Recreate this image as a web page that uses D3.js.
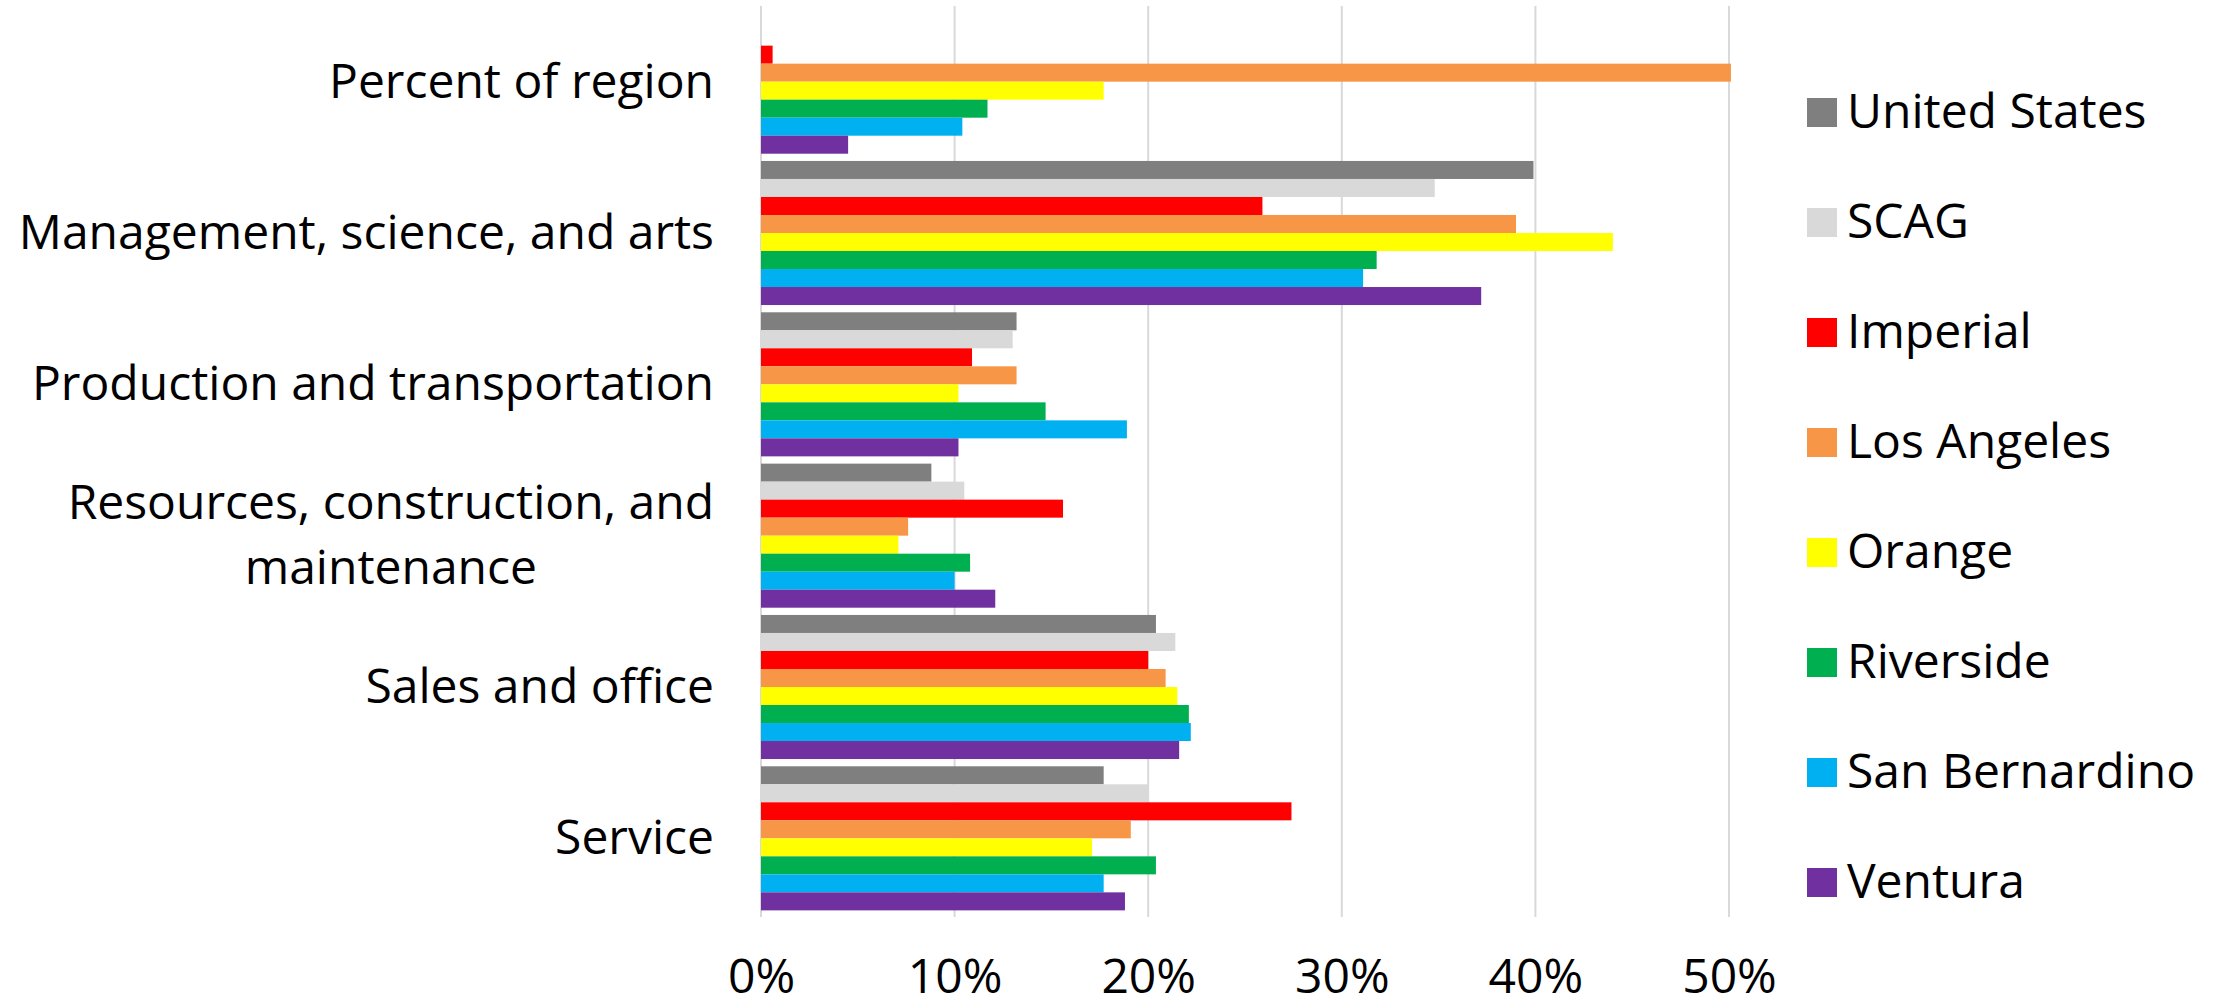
<!DOCTYPE html>
<html>
<head>
<meta charset="utf-8">
<script src="https://cdn.jsdelivr.net/npm/d3@7/dist/d3.min.js"></script>
<style>
  html, body { margin: 0; padding: 0; background: #ffffff; }
  svg { display: block; }
  text { font-family: "Open Sans", "Noto Sans", sans-serif; fill: #000; }
</style>
</head>
<body>
<svg id="chart" width="2229" height="1007"></svg>
<script>
// Occupation categories (top to bottom) and their wrapped label lines
const categories = [
  "Percent of region",
  "Management, science, and arts",
  "Production and transportation",
  "Resources, construction, and maintenance",
  "Sales and office",
  "Service"
];
const categoryLines = [
  ["Percent of region"],
  ["Management, science, and arts"],
  ["Production and transportation"],
  ["Resources, construction, and", "maintenance"],
  ["Sales and office"],
  ["Service"]
];

// Geographies, in bar order within each category
const seriesNames = ["United States", "SCAG", "Imperial", "Los Angeles", "Orange", "Riverside", "San Bernardino", "Ventura"];
const seriesColors = ["#7f7f7f", "#d9d9d9", "#ff0000", "#f79646", "#ffff00", "#00b050", "#00b0f0", "#7030a0"];

// Share of employed residents (%) by category; null = not reported
const unitedStates  = [null, 39.9, 13.2,  8.8, 20.4, 17.7];
const scag          = [null, 34.8, 13.0, 10.5, 21.4, 20.0];
const imperial      = [ 0.6, 25.9, 10.9, 15.6, 20.0, 27.4];
const losAngeles    = [50.1, 39.0, 13.2,  7.6, 20.9, 19.1];
const orange        = [17.7, 44.0, 10.2,  7.1, 21.5, 17.1];
const riverside     = [11.7, 31.8, 14.7, 10.8, 22.1, 20.4];
const sanBernardino = [10.4, 31.1, 18.9, 10.0, 22.2, 17.7];
const ventura       = [ 4.5, 37.2, 10.2, 12.1, 21.6, 18.8];
const seriesValues = [unitedStates, scag, imperial, losAngeles, orange, riverside, sanBernardino, ventura];

// Axis ticks
const xTicks = [0, 10, 20, 30, 40, 50];

const svg = d3.select("#chart");
const FONT = 48;

const plot = { left: 761, right: 1729, top: 6, bottom: 914 };

const x = d3.scaleLinear().domain([0, 50]).range([plot.left, plot.right]);
const y0 = d3.scaleBand().domain(categories).range([plot.top, plot.bottom])
  .paddingInner(0.048).paddingOuter(0.024);
const y1 = d3.scaleBand().domain(seriesNames).range([0, y0.bandwidth()]);

// Vertical gridlines
svg.append("g").selectAll("line").data(xTicks).join("line")
  .attr("x1", d => x(d)).attr("x2", d => x(d))
  .attr("y1", plot.top).attr("y2", plot.bottom + 3)
  .attr("stroke", "#d9d9d9").attr("stroke-width", 2);

// Bars
const rows = [];
categories.forEach((c, ci) => {
  seriesNames.forEach((s, si) => {
    const v = seriesValues[si][ci];
    if (v != null) rows.push({ c, s, v, color: seriesColors[si] });
  });
});
svg.append("g").selectAll("rect").data(rows).join("rect")
  .attr("x", x(0))
  .attr("y", d => y0(d.c) + y1(d.s))
  .attr("width", d => x(d.v) - x(0))
  .attr("height", y1.bandwidth())
  .attr("fill", d => d.color);

// X axis tick labels
const xAxis = d3.axisBottom(x).tickValues(xTicks).tickFormat(d => d + "%").tickSize(0).tickPadding(0);
const xg = svg.append("g").call(xAxis);
xg.select(".domain").remove();
xg.selectAll("text")
  .attr("y", 993).attr("dy", null)
  .style("font-size", FONT + "px")
  .style("font-family", '"Open Sans", sans-serif')
  .attr("fill", "#000");

// Category labels, block right-aligned, lines centred on each other
const labelRight = 714;
const lineH = 65;
const labels = svg.append("g");
categories.forEach((c, ci) => {
  const lines = categoryLines[ci];
  const cy = y0(c) + y0.bandwidth() / 2;
  const g = labels.append("g");
  const texts = lines.map((t, li) => g.append("text")
    .attr("y", cy - (lines.length - 1) * lineH / 2 + li * lineH + 16)
    .style("font-size", FONT + "px")
    .text(t));
  const widths = texts.map(t => t.node().getComputedTextLength());
  const maxW = d3.max(widths);
  texts.forEach(t => t.attr("x", labelRight - maxW / 2).attr("text-anchor", "middle"));
});

// Legend
const legend = svg.append("g");
seriesNames.forEach((s, i) => {
  const cy = 112.5 + i * 110;
  legend.append("rect")
    .attr("x", 1807).attr("y", cy - 14.5)
    .attr("width", 30).attr("height", 29)
    .attr("fill", seriesColors[i]);
  legend.append("text")
    .attr("x", 1847).attr("y", cy + 15)
    .style("font-size", FONT + "px")
    .text(s);
});
</script>
</body>
</html>
